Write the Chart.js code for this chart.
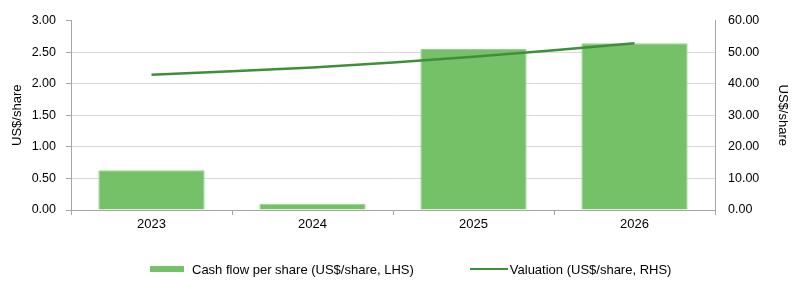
<!DOCTYPE html>
<html>
<head>
<meta charset="utf-8">
<script src="https://cdn.jsdelivr.net/npm/chart.js@4.4.1/dist/chart.umd.min.js"></script>
<style>
  html, body { margin: 0; padding: 0; background: #fff; }
  #wrap { position: relative; width: 800px; height: 294px; }
  #legend {
    position: absolute; left: 150px; top: 260px; height: 18px;
    display: flex; align-items: center; gap: 56px;
    font-family: 'Liberation Sans', Arial, sans-serif; font-size: 13px; color: #000;
  }
  .item { display: flex; align-items: center; }
  .swatch { display: inline-block; margin-right: 8px; }
</style>
</head>
<body>
<div id="wrap">
  <canvas id="myChart" width="800" height="294"></canvas>
  <div id="legend"></div>
</div>
<script>
// data
const years = ["2023", "2024", "2025", "2026"];
const cashFlow = [0.63, 0.10, 2.55, 2.64];     // US$/share, LHS
const valuation = [42.8, 45.1, 48.5, 52.8];   // US$/share, RHS
const lhsTicks = [0, 0.5, 1, 1.5, 2, 2.5, 3];
const rhsTicks = [0, 10, 20, 30, 40, 50, 60];

const FONT = "'Liberation Sans', Arial, sans-serif";
const AXIS_GREY = "#a6a6a6";
const GRID_GREY = "#d9d9d9";
const BAR_GREEN = "#74c168";
const LINE_GREEN = "#3f8f3a";

Chart.defaults.font.family = FONT;
Chart.defaults.font.size = 13;
Chart.defaults.color = "#000";

const ctx = document.getElementById("myChart");

const myChart = new Chart(ctx, {
  data: {
    labels: years,
    datasets: [
      {
        type: "line",
        label: "Valuation (US$/share, RHS)",
        data: valuation,
        yAxisID: "y2",
        borderColor: LINE_GREEN,
        borderWidth: 2.5,
        pointRadius: 0,
        tension: 0.25,
        order: 0
      },
      {
        type: "bar",
        label: "Cash flow per share (US$/share, LHS)",
        data: cashFlow,
        yAxisID: "y",
        backgroundColor: BAR_GREEN,
        borderColor: "#92d488",
        borderWidth: 1,
        categoryPercentage: 1,
        barPercentage: 0.66,
        order: 1
      }
    ]
  },
  options: {
    responsive: false,
    animation: false,
    devicePixelRatio: 1,
    layout: { padding: { top: 15, bottom: 60, left: 0, right: 0 } },
    scales: {
      x: {
        offset: true,
        grid: {
          offset: true,
          drawOnChartArea: false,
          tickLength: 5,
          tickColor: AXIS_GREY
        },
        border: { color: AXIS_GREY },
        ticks: { padding: 2 },
        afterFit: (scale) => { scale.height = 24; }
      },
      y: {
        position: "left",
        min: 0,
        max: 3,
        afterBuildTicks: (scale) => { scale.ticks = lhsTicks.map(v => ({ value: v })); },
        ticks: {
          padding: 10,
          font: { size: 12.5 },
          callback: (v) => Number(v).toFixed(2)
        },
        grid: {
          tickLength: 5,
          tickColor: AXIS_GREY,
          color: (c) => (c.tick && c.tick.value === 3 ? "rgba(0,0,0,0)" : GRID_GREY)
        },
        border: { color: AXIS_GREY },
        title: { display: true, text: "US$/share", padding: { top: 10, bottom: 0 } },
        afterFit: (scale) => { scale.width = 71; }
      },
      y2: {
        position: "right",
        min: 0,
        max: 60,
        afterBuildTicks: (scale) => { scale.ticks = rhsTicks.map(v => ({ value: v })); },
        ticks: {
          padding: 13,
          font: { size: 12.5 },
          callback: (v) => Number(v).toFixed(2)
        },
        grid: { drawOnChartArea: false, drawTicks: false },
        border: { color: AXIS_GREY },
        title: { display: true, text: "US$/share", padding: { top: 10, bottom: 0 } },
        afterFit: (scale) => { scale.width = 85; }
      }
    },
    plugins: {
      tooltip: { enabled: false },
      legend: { display: false }
    }
  }
});

// html legend, bar series first like the reference
const legendEl = document.getElementById("legend");
[...myChart.data.datasets].reverse().forEach(ds => {
  const item = document.createElement("span");
  item.className = "item";
  const sw = document.createElement("span");
  sw.className = "swatch";
  if (ds.type === "bar") {
    sw.style.cssText = "width:34px;height:6px;background:" + ds.backgroundColor;
  } else {
    sw.style.cssText = "width:38px;height:2.5px;margin-right:2px;background:" + ds.borderColor;
  }
  item.appendChild(sw);
  item.appendChild(document.createTextNode(ds.label));
  legendEl.appendChild(item);
});
</script>
</body>
</html>
